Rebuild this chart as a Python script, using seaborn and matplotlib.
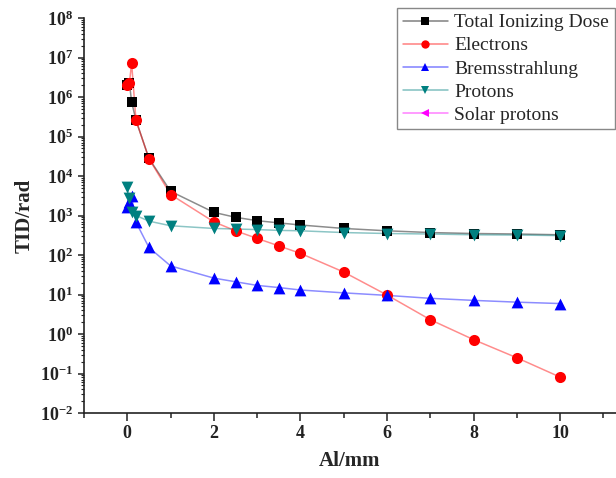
import matplotlib
matplotlib.use("Agg")
import matplotlib.pyplot as plt
from matplotlib.lines import Line2D
from matplotlib.ticker import LogLocator, FixedLocator, NullFormatter, MultipleLocator
import seaborn as sns
import numpy as np

# Aluminium shielding thickness (mm)
thickness = [0, 0.05, 0.1, 0.2, 0.5, 1, 2, 2.5, 3, 3.5, 4, 5, 6, 7, 8, 9, 10]

# Dose contributions (rad)
total_dose = [2.0e6, 2.2e6, 7.5e5, 2.6e5, 2.8e4, 4.1e3, 1.2e3, 900, 740, 650, 575,
              470, 410, 370, 350, 340, 325]
electrons = [2.0e6, 2.3e6, 7.2e6, 2.6e5, 2.75e4, 3.4e3, 690, 410, 263, 170, 110,
             37, 9.7, 2.3, 0.72, 0.25, 0.081]
bremsstrahlung = [1.6e3, 2.2e3, 3.1e3, 680, 155, 53, 26, 21, 17, 15, 13,
                  11, 9.5, 8.0, 7.1, 6.4, 5.9]
protons = [5.2e3, 2.7e3, 1.2e3, 1.0e3, 720, 550, 470, 455, 440, 420, 410,
           370, 350, 340, 325, 320, 310]
solar_protons = []

series_names = ["Total Ionizing Dose", "Electrons", "Bremsstrahlung", "Protons", "Solar protons"]
series_values = [total_dose, electrons, bremsstrahlung, protons, solar_protons]
series_colors = ["#000000", "#FF0000", "#0000FF", "#008080", "#FF00FF"]
series_markers = ["s", "o", "^", "v", "<"]
marker_sizes = [48, 64, 72, 72, 72]

x_tick_values = [0, 2, 4, 6, 8, 10]
y_exponents = list(range(-2, 9))

sns.set_theme(style="ticks")
plt.rcParams["font.family"] = ["Liberation Serif", "DejaVu Serif"]
plt.rcParams["mathtext.fontset"] = "custom"
plt.rcParams["mathtext.rm"] = "Liberation Serif:bold"
plt.rcParams["mathtext.bf"] = "Liberation Serif:bold"
plt.rcParams["mathtext.it"] = "Liberation Serif:bold"

fig = plt.figure(figsize=(6.16, 4.78), dpi=100)
ax = fig.add_axes([84 / 616, 65 / 478, 532 / 616, 395 / 478])

for name, vals, col, mk, ms in zip(series_names, series_values, series_colors,
                                    series_markers, marker_sizes):
    if len(vals) == 0:
        continue
    xs = thickness[:len(vals)]
    sns.lineplot(x=xs, y=vals, color=col, alpha=0.45, lw=1.1, sort=False,
                 estimator=None, ax=ax, legend=False)
    sns.scatterplot(x=xs, y=vals, color=col, marker=mk, s=ms, linewidth=0,
                    ax=ax, legend=False, zorder=3)

ax.set_yscale("log")
ax.set_ylim(1e-2, 1e8)
ax.set_xlim(-1, 11.29)

ax.xaxis.set_major_locator(FixedLocator(x_tick_values))
ax.xaxis.set_minor_locator(MultipleLocator(1))
ax.set_xticklabels([str(v) for v in x_tick_values], fontweight="bold", fontsize=13)

ax.yaxis.set_major_locator(FixedLocator([10.0 ** e for e in y_exponents]))
ax.set_yticklabels([r"$\mathbf{10^{%d}}$" % e for e in y_exponents], fontsize=13)
ax.yaxis.set_minor_locator(LogLocator(base=10, subs=np.arange(2, 10), numticks=100))
ax.yaxis.set_minor_formatter(NullFormatter())

ax.tick_params(axis="both", which="both", direction="out", colors="#222222", width=1.1)
ax.tick_params(axis="x", which="major", length=6, pad=3)
ax.tick_params(axis="x", which="minor", length=3.5)
ax.tick_params(axis="y", which="major", length=4, pad=4)
ax.tick_params(axis="y", which="minor", length=2.5, width=0.8)

for side in ["top", "right"]:
    ax.spines[side].set_visible(False)
for side in ["left", "bottom"]:
    ax.spines[side].set_linewidth(1.2)
    ax.spines[side].set_color("#222222")

ax.set_xlabel("Al/mm", fontsize=15, fontweight="bold", labelpad=6)
ax.set_ylabel("TID/rad", fontsize=15, fontweight="bold", labelpad=4)

# Legend entries: light connecting line with a solid marker in the middle
handles = []
for col, mk in zip(series_colors, series_markers):
    light = np.array(matplotlib.colors.to_rgb(col)) * 0.5 + 0.5
    handles.append(Line2D([0], [0], color=light, lw=1.1, marker=mk, markersize=6,
                          markerfacecolor=col, markeredgewidth=0))

leg = fig.legend(handles, series_names, loc="upper right",
                 bbox_to_anchor=(615 / 616, 1 - 8 / 478), fontsize=14,
                 frameon=True, fancybox=False, framealpha=1, edgecolor="#888888",
                 handlelength=2.3, handletextpad=0.35, labelspacing=0.28,
                 borderpad=0.3, borderaxespad=0)
leg.get_frame().set_linewidth(1.0)

fig.savefig("out.png", dpi=100)
